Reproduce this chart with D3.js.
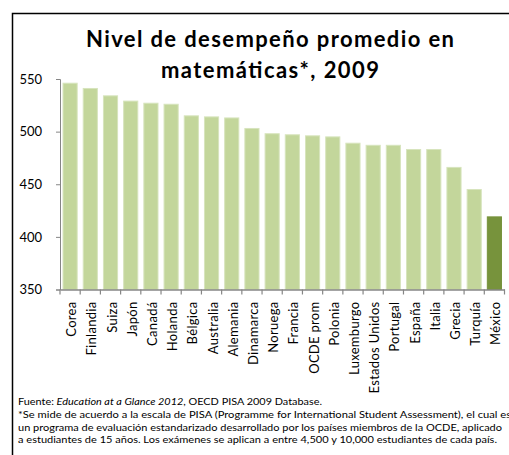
<!DOCTYPE html>
<html>
<head>
<meta charset="utf-8">
<script src="https://cdn.jsdelivr.net/npm/d3@7"></script>
<style>
  html, body { margin: 0; padding: 0; background: #fff; }
  svg { display: block; }
  text { font-family: Lato, "Open Sans", sans-serif; }
</style>
</head>
<body>
<svg id="chart" width="509" height="455"></svg>
<script>
const categories = ["Corea","Finlandia","Suiza","Japón","Canadá","Holanda","Bélgica","Australia","Alemania","Dinamarca","Noruega","Francia","OCDE prom","Polonia","Luxemburgo","Estados Unidos","Portugal","España","Italia","Grecia","Turquía","México"];
const values = [546,541,534,529,527,526,515,514,513,503,498,497,496,495,489,487,487,483,483,466,445,419];
const highlight = ["México"];
const yTicks = [350,400,450,500,550];
const titleLines = ["Nivel de desempeño promedio en", "matemáticas*, 2009"];
const titleWidths = [368, 218];
const footerLines = [
  [{t:"Fuente: ", i:false},{t:"Education at a Glance  2012", i:true},{t:", OECD PISA 2009 Database.", i:false}],
  [{t:"*Se mide de acuerdo a la escala de PISA (Programme for International Student Assessment),  el cual es", i:false}],
  [{t:"un programa de evaluación estandarizado  desarrollado  por los países miembros de la OCDE, aplicado", i:false}],
  [{t:"a estudiantes de 15 años. Los exámenes se aplican a entre  4,500 y 10,000 estudiantes  de cada país.", i:false}]
];
const footerWidths = [304, 493, 484, 479];

const svg = d3.select("#chart");

// frame
svg.append("path")
  .attr("d", "M12.5,470 V13.5 H520")
  .attr("fill", "none").attr("stroke", "#000").attr("stroke-width", 1.5);

const x = d3.scaleBand().domain(categories).range([60, 504.5]).paddingInner(0.3).paddingOuter(0.15);
const y = d3.scaleLinear().domain([350, 550]).range([289.5, 79]);

// bars
svg.append("g").selectAll("rect").data(categories).join("rect")
  .attr("x", d => x(d))
  .attr("width", x.bandwidth())
  .attr("y", (d, i) => y(values[i]))
  .attr("height", (d, i) => y(350) - y(values[i]))
  .attr("fill", d => highlight.includes(d) ? "#77933C" : "#C3D69B")
  .attr("stroke", d => highlight.includes(d) ? "#77933C" : "#D7E4BD")
  .attr("stroke-width", 1);

// y axis
const yAxis = svg.append("g").attr("transform", "translate(60,0)")
  .call(d3.axisLeft(y).tickValues(yTicks).tickSize(4).tickPadding(14));
yAxis.select(".domain").attr("stroke", "#868686");
yAxis.selectAll(".tick line").attr("stroke", "#868686");
yAxis.selectAll(".tick text").attr("font-family", "Lato").attr("font-size", 13).attr("fill", "#000");

// x axis
const xAxis = svg.append("g").attr("transform", `translate(0,${y(350)})`)
  .call(d3.axisBottom(x).tickSize(0).tickFormat(""));
xAxis.select(".domain").attr("stroke", "#868686").attr("stroke-width", 1.5);
// boundary ticks between categories
svg.append("g").selectAll("line")
  .data(d3.range(categories.length + 1))
  .join("line")
  .attr("x1", i => 60 + i * x.step())
  .attr("x2", i => 60 + i * x.step())
  .attr("y1", y(350)).attr("y2", y(350) + 5)
  .attr("stroke", "#868686").attr("stroke-width", 1.2);

// category labels
svg.append("g").selectAll("text").data(categories).join("text")
  .attr("transform", d => `translate(${x(d) + x.bandwidth()/2 + 6},${y(350) + 12}) rotate(-90)`)
  .attr("text-anchor", "end")
  .attr("font-size", 13)
  .attr("letter-spacing", 0.3)
  .attr("fill", "#000")
  .text(d => d);

// title
svg.append("g").selectAll("text").data(titleLines).join("text")
  .attr("x", (d, i) => 270 - titleWidths[i] / 2)
  .attr("y", (d, i) => 47 + i * 31)
  .attr("font-size", 22)
  .attr("font-weight", "bold")
  .attr("fill", "#000")
  .attr("textLength", (d, i) => titleWidths[i])
  .attr("lengthAdjust", "spacing")
  .text(d => d);

// footer
const ft = svg.append("g").selectAll("text").data(footerLines).join("text")
  .attr("x", 18)
  .attr("y", (d, i) => 405 + i * 12.8)
  .attr("font-size", 10)
  .attr("fill", "#000")
  .attr("textLength", (d, i) => footerWidths[i])
  .attr("lengthAdjust", "spacingAndGlyphs");
ft.selectAll("tspan").data(d => d).join("tspan")
  .attr("font-style", d => d.i ? "italic" : "normal")
  .text(d => d.t);
</script>
</body>
</html>
